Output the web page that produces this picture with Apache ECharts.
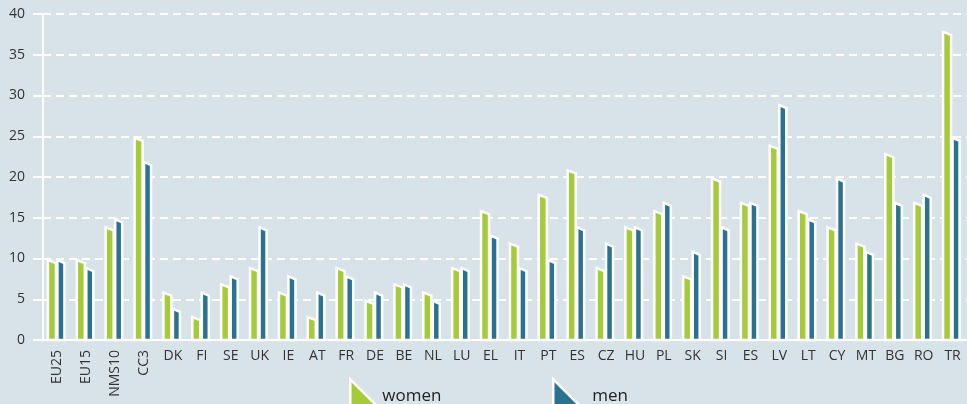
<!DOCTYPE html>
<html>
<head>
<meta charset="utf-8">
<script src="https://cdn.jsdelivr.net/npm/echarts@6/dist/echarts.min.js"></script>
<style>
  html, body { margin: 0; padding: 0; background: #d8e3e9; }
  #chart { width: 967px; height: 404px; }
</style>
</head>
<body>
<div id="chart"></div>
<script>
// values
const countries = ['EU25', 'EU15', 'NMS10', 'CC3', 'DK', 'FI', 'SE', 'UK', 'IE', 'AT', 'FR', 'DE', 'BE', 'NL', 'LU', 'EL',
  'IT', 'PT', 'ES', 'CZ', 'HU', 'PL', 'SK', 'SI', 'ES', 'LV', 'LT', 'CY', 'MT', 'BG', 'RO', 'TR'];
const women = [10, 10, 14, 25, 6, 3, 7, 9, 6, 3, 9, 5, 7, 6, 9, 16, 12, 18, 21, 9, 14, 16, 8, 20, 17, 24, 16, 14, 12, 23, 17, 38];
const men = [10, 9, 15, 22, 4, 6, 8, 14, 8, 6, 8, 6, 7, 5, 9, 13, 9, 10, 14, 12, 14, 17, 11, 14, 17, 29, 15, 20, 11, 17, 18, 25];

const GREEN = '#a6cb3a';
const BLUE = '#2a7290';
const TEXT = '#333333';
const FONT = 'Open Sans';

const chart = echarts.init(document.getElementById('chart'));

// bar with slanted top and white outline
function barItem(left, right, color) {
  return function (params, api) {
    const idx = api.value(0);
    const top = api.coord([idx, api.value(1)]);
    const base = api.coord([idx, 0]);
    const x0 = top[0] + left, x1 = top[0] + right;
    return {
      type: 'polygon',
      shape: { points: [[x0, top[1] + 1.5], [x1, top[1] + 4.5], [x1, base[1]], [x0, base[1]]] },
      style: { fill: color, stroke: '#fff', lineWidth: 2.5 }
    };
  };
}

const triangle = 'path://M0,0L0,10L10,10Z';

const legendText = {
  fontSize: 17, color: '#222', fontFamily: FONT,
  formatter: '{t|{name}}',
  rich: { t: { fontSize: 17, color: '#222', fontFamily: FONT, padding: [8, 0, 0, 0] } }
};

const option = {
  backgroundColor: '#d8e3e9',
  animation: false,
  textStyle: { fontFamily: FONT },
  grid: { left: 43, top: 14, right: -7, bottom: 64 },
  legend: [
    {
      left: 349, top: 378, padding: 0,
      itemWidth: 26, itemHeight: 26,
      icon: triangle,
      formatter: legendText.formatter,
      data: [{ name: 'women', itemStyle: { color: GREEN, borderColor: '#fff', borderWidth: 2.5 } }],
      textStyle: { fontSize: 17, color: '#222', fontFamily: FONT, rich: { t: { fontSize: 17, color: '#222', fontFamily: FONT, padding: [8, 0, 0, 1] } } }
    },
    {
      left: 552, top: 378, padding: 0,
      itemWidth: 26, itemHeight: 26,
      icon: triangle,
      formatter: legendText.formatter,
      data: [{ name: 'men', itemStyle: { color: BLUE, borderColor: '#fff', borderWidth: 2.5 } }],
      textStyle: { fontSize: 17, color: '#222', fontFamily: FONT, rich: { t: { fontSize: 17, color: '#222', fontFamily: FONT, padding: [8, 0, 0, 8] } } }
    }
  ],
  xAxis: [
    {
      type: 'category',
      data: countries,
      axisLine: { lineStyle: { color: '#fff', width: 2 } },
      axisTick: { interval: 0, length: 7, lineStyle: { color: '#fff', width: 2 } },
      axisLabel: {
        interval: function (index) { return index >= 4; },
        color: TEXT, fontSize: 14, margin: 9, fontFamily: FONT
      }
    },
    {
      type: 'category',
      data: countries,
      position: 'bottom',
      axisLine: { show: false },
      axisTick: { show: false },
      axisLabel: {
        interval: function (index) { return index < 4; },
        rotate: 90,
        color: TEXT, fontSize: 14, margin: 10, fontFamily: FONT
      }
    }
  ],
  yAxis: {
    type: 'value',
    min: 0, max: 40, interval: 5,
    axisLine: { show: true, lineStyle: { color: '#fff', width: 2 } },
    axisTick: { show: true, length: 10, lineStyle: { color: '#fff', width: 2 } },
    axisLabel: { color: TEXT, fontSize: 14, margin: 18, fontFamily: FONT },
    splitLine: { lineStyle: { color: '#fff', width: 2, type: [8, 5] } }
  },
  series: [
    {
      name: 'women',
      type: 'custom',
      xAxisIndex: 0,
      itemStyle: { color: GREEN },
      renderItem: barItem(-9.5, -1.5, GREEN),
      encode: { x: 0, y: 1 },
      data: women.map((v, i) => [i, v])
    },
    {
      name: 'men',
      type: 'custom',
      xAxisIndex: 0,
      itemStyle: { color: BLUE },
      renderItem: barItem(0, 7, BLUE),
      encode: { x: 0, y: 1 },
      data: men.map((v, i) => [i, v])
    }
  ]
};

chart.setOption(option);
</script>
</body>
</html>
